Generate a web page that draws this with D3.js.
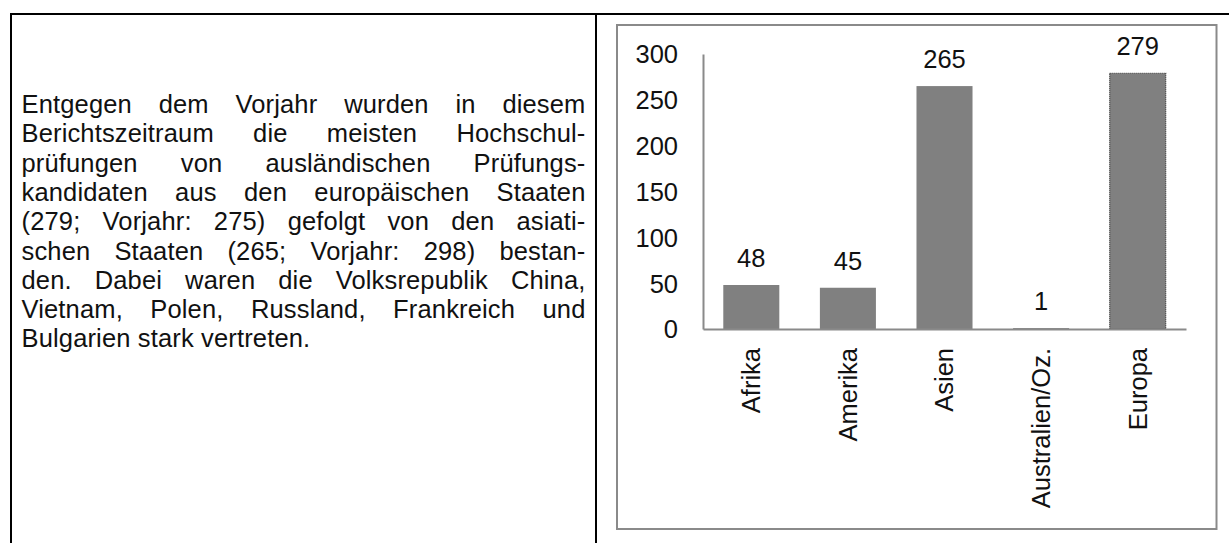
<!DOCTYPE html>
<html><head><meta charset="utf-8">
<script src="https://cdn.jsdelivr.net/npm/d3@7/dist/d3.min.js"></script>
<style>
html,body{margin:0;padding:0;background:#fff;}
svg{display:block;}
</style></head>
<body>
<svg id="c" width="1229" height="543"></svg>
<script>
const categories = ["Afrika", "Amerika", "Asien", "Australien/Oz.", "Europa"];
const values = [48, 45, 265, 1, 279];
const yTicks = [0, 50, 100, 150, 200, 250, 300];
const paragraphLines = [
  "Entgegen dem Vorjahr wurden in diesem",
  "Berichtszeitraum die meisten Hochschul-",
  "prüfungen von ausländischen Prüfungs-",
  "kandidaten aus den europäischen Staaten",
  "(279; Vorjahr: 275) gefolgt von den asiati-",
  "schen Staaten (265; Vorjahr: 298) bestan-",
  "den. Dabei waren die Volksrepublik China,",
  "Vietnam, Polen, Russland, Frankreich und",
  "Bulgarien stark vertreten."
];

const svg = d3.select("#c");
const FONT = "'Liberation Sans', Arial, sans-serif";

// table frame lines
svg.append("line").attr("x1", 11).attr("x2", 1229).attr("y1", 14).attr("y2", 14)
  .attr("stroke", "#000").attr("stroke-width", 2);
svg.append("line").attr("x1", 11).attr("x2", 11).attr("y1", 13).attr("y2", 543)
  .attr("stroke", "#000").attr("stroke-width", 2);
svg.append("line").attr("x1", 596).attr("x2", 596).attr("y1", 13).attr("y2", 543)
  .attr("stroke", "#000").attr("stroke-width", 2);

// justified paragraph
const textLeft = 21.5, textRight = 585.5, firstBase = 113, lineH = 29.3;
const pg = svg.append("g").attr("font-family", FONT).attr("font-size", 25.5)
  .attr("letter-spacing", 0.15).attr("fill", "#111");
paragraphLines.forEach((line, i) => {
  const y = firstBase + i * lineH;
  const words = line.split(" ");
  const last = i === paragraphLines.length - 1;
  const ws = words.map(w => {
    const t = pg.append("text").attr("y", y).text(w);
    return { t, w: t.node().getComputedTextLength() };
  });
  const total = d3.sum(ws, d => d.w);
  let gap;
  if (last) {
    const sp = pg.append("text").text("a a");
    const sp2 = pg.append("text").text("aa");
    gap = sp.node().getComputedTextLength() - sp2.node().getComputedTextLength();
    sp.remove(); sp2.remove();
  } else {
    gap = (textRight - textLeft - total) / (words.length - 1);
  }
  let x = textLeft;
  ws.forEach(d => { d.t.attr("x", x); x += d.w + gap; });
});

// chart frame
svg.append("rect").attr("x", 617).attr("y", 25).attr("width", 599.5).attr("height", 504)
  .attr("fill", "none").attr("stroke", "#8a8a8a").attr("stroke-width", 2);

const x0 = 703, x1 = 1186, yBase = 329, yTop = 54;
const x = d3.scaleBand().domain(categories).range([x0, x1]).paddingInner(0.42).paddingOuter(0.21);
const y = d3.scaleLinear().domain([0, 300]).range([yBase, yTop]);

const CF = 25.5;
const cg = svg.append("g").attr("font-family", FONT).attr("font-size", CF).attr("fill", "#111");

// bars
cg.selectAll("rect.bar").data(values).enter().append("rect")
  .attr("class", "bar")
  .attr("x", (d, i) => x(categories[i]))
  .attr("y", d => y(d))
  .attr("width", x.bandwidth())
  .attr("height", d => y(0) - y(d))
  .attr("fill", "#808080")
  .attr("stroke", (d, i) => categories[i] === "Europa" ? "#333" : "none")
  .attr("stroke-width", 1.2)
  .attr("stroke-dasharray", (d, i) => categories[i] === "Europa" ? "1,1" : null);

// axes
const yAxis = d3.axisLeft(y).tickValues(yTicks).tickSize(0).tickPadding(25);
const ya = svg.append("g").attr("transform", `translate(${x0},0)`).call(yAxis);
ya.select(".domain").attr("stroke", "#8a8a8a").attr("stroke-width", 2);
ya.selectAll("text").attr("font-family", FONT).attr("font-size", CF).attr("fill", "#111").attr("dy", "0.35em");

const xAxis = d3.axisBottom(x).tickSize(0);
const xa = svg.append("g").attr("transform", `translate(0,${yBase})`).call(xAxis);
xa.select(".domain").attr("stroke", "#8a8a8a").attr("stroke-width", 2);
xa.selectAll("text")
  .attr("font-family", FONT).attr("font-size", CF).attr("fill", "#111")
  .attr("text-anchor", "end")
  .attr("transform", "rotate(-90)")
  .attr("x", -19).attr("y", 0).attr("dy", "0.35em");

// value labels
cg.selectAll("text.val").data(values).enter().append("text")
  .attr("class", "val")
  .attr("x", (d, i) => x(categories[i]) + x.bandwidth() / 2)
  .attr("y", d => y(d) - 18)
  .attr("text-anchor", "middle")
  .text(d => d);
</script>
</body></html>
